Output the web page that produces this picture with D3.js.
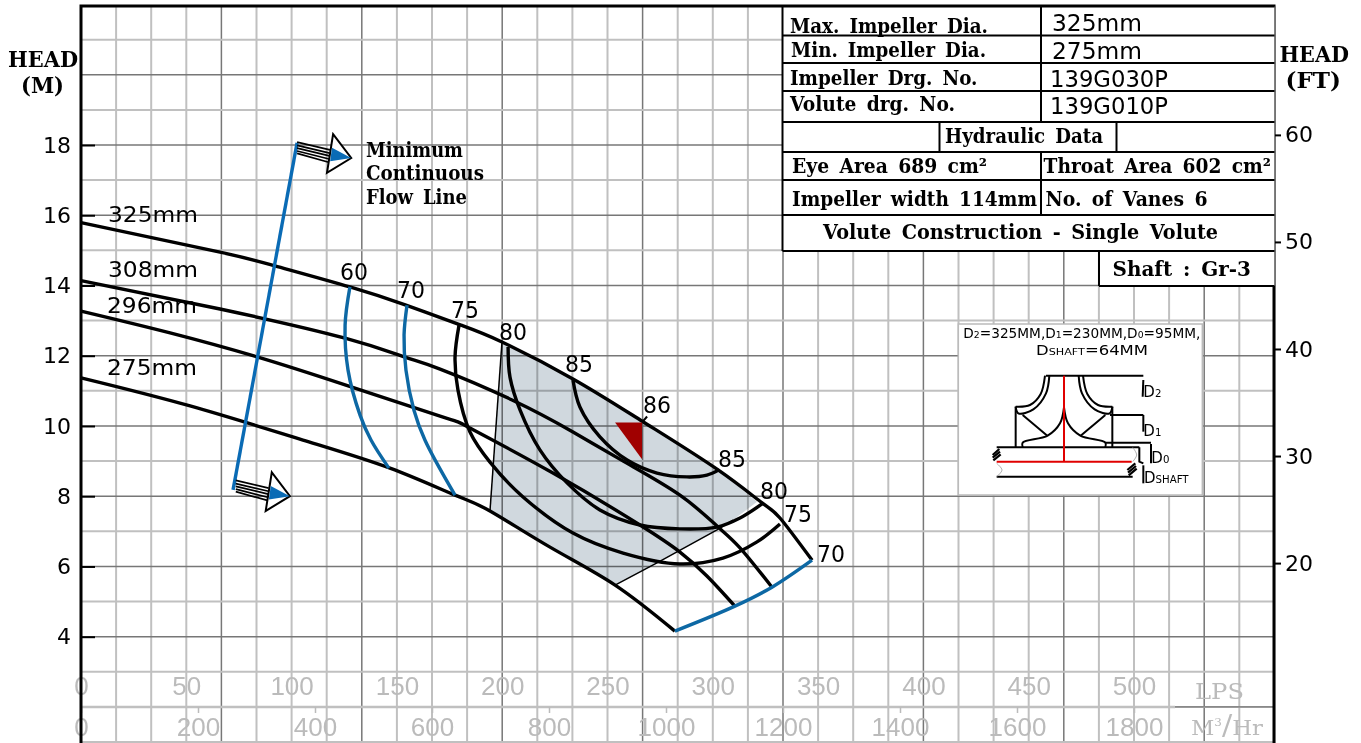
<!DOCTYPE html>
<html>
<head>
<meta charset="utf-8">
<title>Pump curve</title>
<script src="https://cdn.jsdelivr.net/npm/d3@7"></script>
<style>
  body { margin: 0; background: #fff; }
  svg { display: block; }
  .domain { display: none; }
  .num { font-family: "DejaVu Sans", sans-serif; fill: #000; }
  .slab { font-family: "DejaVu Serif", serif; font-weight: 700; fill: #000; word-spacing: 4px; }
  .flow-axis text { font-family: "Liberation Sans", sans-serif; font-size: 26px; fill: #bbb; }
  .flow-axis line { stroke: #bbb; stroke-width: 1.5; }
  .head-axis text { font-family: "DejaVu Sans", sans-serif; font-size: 22px; fill: #000; }
  .head-axis line { stroke: #000; stroke-width: 2; }
</style>
</head>
<body>
<svg id="chart" width="1361" height="743"></svg>
<script>
// all curves are [LPS, head in metres]
const curve325 = [[0,15.79],[66,14.95],[92.1,14.56],[127.7,13.96],[154.3,13.44],[180.4,12.87],[199.9,12.39],[233.6,11.34],[266.9,10.12],[302.5,8.75],[323.4,7.81],[331.9,7.38],[347.1,6.18]];
const curve308 = [[0,14.14],[66,13.33],[125.4,12.5],[153.8,11.96],[170.5,11.62],[204.7,10.74],[233.6,9.83],[258.3,8.97],[284.4,8.03],[302,7.15],[312.9,6.53],[328.1,5.41]];
const curve296 = [[0,13.27],[42.3,12.65],[84,11.96],[125.4,11.17],[170.5,10.28],[184.7,9.94],[224.1,8.66],[265.4,7.18],[284.4,6.41],[297.2,5.73],[310.5,4.87]];
const curve275 = [[0,11.37],[51.8,10.57],[105.4,9.6],[146.7,8.8],[177.6,8.03],[194.2,7.58],[222.7,6.55],[253.6,5.47],[282,4.16]];

const eff60 = [[127.7,13.96],[125.4,12.87],[126.8,11.59],[132.5,10.31],[137.7,9.6],[146.2,8.8]];
const eff70 = [[154.8,13.44],[153.4,12.59],[154.3,11.59],[158.1,10.45],[163.3,9.6],[177.6,8.03]];
const eff75 = [[179.5,12.87],[177.6,11.96],[179,11.02],[184.7,9.83],[194.2,8.97],[209.9,7.98],[233.6,6.95],[257.4,6.38],[284.4,6.07],[304.8,6.24],[321,6.7],[331.9,7.21]];
const eff80 = [[202.8,12.25],[203.7,11.39],[208.5,10.45],[217.9,9.32],[230.8,8.38],[246.4,7.61],[265.4,7.18],[284.4,7.07],[302,7.12],[312.9,7.38],[323.4,7.78]];
const eff85 = [[233.6,11.31],[236.9,10.54],[246.4,9.69],[259.3,9.03],[273.5,8.66],[287.7,8.55],[297.2,8.6],[302.9,8.75]];
const endCurve = [[282,4.16],[310.5,4.87],[328.1,5.41],[347.1,6.18]];
const minFlow = [[102.6,18.06],[72.2,8.18]];

// preferred operating region, the grey patch
const regionEdge = [[199.9,12.39],[233.6,11.34],[266.9,10.12],[302.5,8.75],[321,7.84],[309.6,7.32],[302,7.04],[273.5,6.1],[253.6,5.47],[222.7,6.55],[194.2,7.58]];
const regionLeftLine = [[199.9,12.39],[194.2,7.58]];
const regionLowLine = [[253.6,5.47],[273.5,6.1],[302,7.04],[309.6,7.32]];
const bepMarker = [[253.6,10.1],[266.4,10.1],[266.4,9.05]];
const bepTick = [[266.4,10.1],[268.8,10.27]];

const flowLps = [0,50,100,150,200,250,300,350,400,450,500];
const flowM3 = [0,200,400,600,800,1000,1200,1400,1600,1800];
const headM = [4,6,8,10,12,14,16,18];
const headFt = [20,30,40,50,60];

const diaLabels = ["325mm","308mm","296mm","275mm"];
const effLabels = ["60","70","75","80","85","86","85","80","75","70"];
const tableLabels = ["Max. Impeller Dia.","Min. Impeller Dia.","Impeller Drg. No.","Volute drg. No.","Hydraulic Data","Eye Area 689 cm²","Throat Area 602 cm²","Impeller width 114mm","No. of Vanes 6","Volute Construction - Single Volute","Shaft : Gr-3"];
const tableValues = ["325mm","275mm","139G030P","139G010P"];
const flowNote = ["Minimum","Continuous","Flow Line"];

const svg = d3.select("#chart");

const x = d3.scaleLinear().domain([0, 1700 / 3]).range([81, 1274.4]);
const xM3 = d3.scaleLinear().domain([0, 2040]).range([81, 1274.4]);
const y = d3.scaleLinear().domain([18, 4]).range([145, 636.7]);
const yFt = d3.scaleLinear().domain([60, 20]).range([y(60 * 0.3048), y(20 * 0.3048)]);

const smooth = d3.line().x(d => x(d[0])).y(d => y(d[1])).curve(d3.curveCatmullRom);
const natural = d3.line().x(d => x(d[0])).y(d => y(d[1])).curve(d3.curveNatural);
const straight = d3.line().x(d => x(d[0])).y(d => y(d[1]));

/* grid */
const grid = svg.append("g");
d3.range(0, 35).forEach(i => {
    const major = i % 4 === 0;
    grid.append("line")
        .attr("x1", x(i * 50 / 3)).attr("x2", x(i * 50 / 3))
        .attr("y1", 6).attr("y2", 743)
        .attr("stroke", major ? "#777" : "#c0c0c0")
        .attr("stroke-width", major ? 1.5 : 2);
});
d3.range(1, 22).forEach(m => {
    const major = m % 2 === 0 && m > 2;
    grid.append("line")
        .attr("x1", 81).attr("x2", 1274)
        .attr("y1", y(m)).attr("y2", y(m))
        .attr("stroke", major ? "#777" : "#c0c0c0")
        .attr("stroke-width", major ? 1.5 : 2);
});
// the thick rule between the two flow scales
grid.append("line").attr("x1", 81).attr("x2", 1175).attr("y1", y(2)).attr("y2", y(2))
    .attr("stroke", "#c0c0c0").attr("stroke-width", 2.5);
grid.append("line").attr("x1", 1175).attr("x2", 1274).attr("y1", y(2)).attr("y2", y(2))
    .attr("stroke", "#777").attr("stroke-width", 1.2);

/* flow scales */
svg.append("g").attr("class", "flow-axis")
    .attr("transform", "translate(0,672)")
    .call(d3.axisBottom(x).tickValues(flowLps).tickSize(0).tickPadding(4.5).tickFormat(d3.format("d")));
svg.append("g").attr("class", "flow-axis")
    .attr("transform", "translate(0,707)")
    .call(d3.axisBottom(xM3).tickValues(flowM3).tickSize(6).tickPadding(4.5).tickFormat(d3.format("d")));

svg.append("text").attr("class", "slab").attr("x", 1195).attr("y", 699)
    .attr("textLength", 49).attr("lengthAdjust", "spacingAndGlyphs")
    .style("font-size", "22px").style("fill", "#bbb").style("font-weight", "400")
    .text("LPS");
const m3 = svg.append("text").attr("class", "slab").attr("x", 1191).attr("y", 735)
    .attr("textLength", 72).attr("lengthAdjust", "spacingAndGlyphs")
    .style("font-size", "21px").style("fill", "#bbb").style("font-weight", "400");
m3.append("tspan").text("M");
m3.append("tspan").attr("dy", -9).style("font-size", "11px").text("3");
m3.append("tspan").attr("dy", 9).style("font-size", "28px").text("/");
m3.append("tspan").text("Hr");

/* grey region goes under the curves, the grid shows through it */
svg.append("path")
    .attr("d", straight(regionEdge) + "Z")
    .attr("fill", "#d0d8de")
    .style("mix-blend-mode", "multiply");
[regionLeftLine, regionLowLine].forEach(l => {
    svg.append("path").attr("d", straight(l)).attr("fill", "none").attr("stroke", "#000").attr("stroke-width", 1.5);
});

/* head axes */
svg.append("g").attr("class", "head-axis")
    .attr("transform", "translate(81,0)")
    .call(d3.axisLeft(y).tickValues(headM).tickSize(-14).tickPadding(10));
svg.append("g").attr("class", "head-axis")
    .attr("transform", "translate(1274,0)")
    .call(d3.axisRight(yFt).tickValues(headFt).tickSize(7).tickPadding(4));

/* frame */
svg.append("path").attr("d", "M81,743V6H1274V743").attr("fill", "none").attr("stroke", "#000").attr("stroke-width", 3);

/* table */
const tableHLines = [6.5, 35.5, 63, 91, 122, 152, 180, 215, 251];
const table = svg.append("g");
table.append("rect").attr("x", 782.5).attr("y", 6.5).attr("width", 492).attr("height", 244.5).attr("fill", "#fff");
table.append("rect").attr("x", 1099).attr("y", 251).attr("width", 175.5).attr("height", 35).attr("fill", "#fff");
const seg = (x1, y1, x2, y2) => table.append("line")
    .attr("x1", x1).attr("y1", y1).attr("x2", x2).attr("y2", y2)
    .attr("stroke", "#000").attr("stroke-width", 2);
tableHLines.forEach(v => seg(782.5, v, 1274.5, v));
seg(782.5, 6, 782.5, 251);
seg(1041, 6, 1041, 122);
seg(939.5, 122, 939.5, 152);
seg(1116.5, 122, 1116.5, 152);
seg(1041, 152, 1041, 215);
seg(1099, 251, 1099, 286);
seg(1099, 286, 1274.5, 286);

const tableLayout = [[790,32.5,198],[791,57,195],[790,85,187.5],[790,111,165],[945,143,158],[792,173,195],[1043.6,173,227.4],[792,205.7,245],[1045.5,205.7,162],[823,239,395],[1112.6,275.7,138.4]];
tableLabels.forEach((t, i) => {
    const p = tableLayout[i];
    table.append("text").attr("class", "slab")
        .attr("x", p[0]).attr("y", p[1])
        .attr("textLength", p[2]).attr("lengthAdjust", "spacingAndGlyphs")
        .style("font-size", "20px").text(t);
});
const valueLayout = [[1052,31,90],[1052,59,90],[1050,87,118],[1050,114,118]];
tableValues.forEach((t, i) => {
    const p = valueLayout[i];
    table.append("text").attr("class", "num")
        .attr("x", p[0]).attr("y", p[1])
        .attr("textLength", p[2]).attr("lengthAdjust", "spacingAndGlyphs")
        .style("font-size", "23px").text(t);
});

/* axis titles */
[["HEAD",8,67,70],["(M)",21,93,43],["HEAD",1279.5,62,69.5],["(FT)",1285.5,88,55.5]].forEach(d => {
    svg.append("text").attr("class", "slab")
        .attr("x", d[1]).attr("y", d[2])
        .attr("textLength", d[3]).attr("lengthAdjust", "spacingAndGlyphs")
        .style("font-size", "22px").text(d[0]);
});

/* head curves */
[curve325, curve308, curve296, curve275].forEach(c => {
    svg.append("path").attr("d", natural(c)).attr("fill", "none").attr("stroke", "#000").attr("stroke-width", 3.4);
});
[eff75, eff80, eff85].forEach(c => {
    svg.append("path").attr("d", smooth(c)).attr("fill", "none").attr("stroke", "#000").attr("stroke-width", 3.4);
});
[eff60, eff70, endCurve].forEach(c => {
    svg.append("path").attr("d", smooth(c)).attr("fill", "none").attr("stroke", "#0d68a4").attr("stroke-width", 3.4);
});
svg.append("path").attr("d", straight(minFlow)).attr("fill", "none").attr("stroke", "#0a6bb5").attr("stroke-width", 3.4);

/* best efficiency marker */
svg.append("path").attr("d", straight(bepMarker) + "Z").attr("fill", "#a00000");
svg.append("path").attr("d", straight(bepTick)).attr("stroke", "#000").attr("stroke-width", 2);

/* min flow arrows, offsets in LPS and metres from each anchor */
const arrowAnchors = [[102.6,18.06],[73.5,8.43]];
const arrowShaft = [[0,0.02,15.6,-0.2],[0,-0.07,15.5,-0.29],[0,-0.15,15.4,-0.37],[0,-0.23,15.2,-0.46],[0,-0.3,15,-0.55]];
const arrowHead = [[17.1,0.25],[25.7,-0.43],[14.2,-0.85]];
const arrowFill = [[16.6,-0.14],[25.7,-0.43],[15.7,-0.52]];
arrowAnchors.forEach(end => {
    const at = p => [end[0] + p[0], end[1] + p[1]];
    const g = svg.append("g");
    arrowShaft.forEach(s => {
        g.append("path").attr("d", straight([at([s[0], s[1]]), at([s[2], s[3]])]))
            .attr("stroke", "#000").attr("stroke-width", 1.7);
    });
    g.append("path").attr("d", straight(arrowHead.map(at)) + "Z").attr("fill", "#fff").attr("stroke", "#000").attr("stroke-width", 2);
    g.append("path").attr("d", straight(arrowFill.map(at)) + "Z").attr("fill", "#0a6bb5");
});

flowNote.forEach((t, i) => {
    svg.append("text").attr("class", "slab")
        .attr("x", 366).attr("y", [157, 180, 204][i])
        .attr("textLength", [97, 118, 101][i]).attr("lengthAdjust", "spacingAndGlyphs")
        .style("font-size", "20px").text(t);
});

/* curve labels */
const diaLayout = [[108,222],[108,277],[107,313],[107,375]];
diaLabels.forEach((t, i) => {
    svg.append("text").attr("class", "num")
        .attr("x", diaLayout[i][0]).attr("y", diaLayout[i][1])
        .attr("textLength", 90).attr("lengthAdjust", "spacingAndGlyphs")
        .style("font-size", "22px").text(t);
});
const effLayout = [[340,280],[397,298],[451,318],[499,340],[565,372],[643,413],[718,467],[760,499],[784,522],[817,562]];
effLabels.forEach((t, i) => {
    svg.append("text").attr("class", "num")
        .attr("x", effLayout[i][0]).attr("y", effLayout[i][1])
        .attr("textLength", 28).attr("lengthAdjust", "spacingAndGlyphs")
        .style("font-size", "23px").text(t);
});

/* impeller sketch, drawn in its own little coordinate system */
const ix = d3.scaleLinear().domain([0, 780]).range([950, 1210]);
const iy = d3.scaleLinear().domain([0, 540]).range([320, 500]);
const sketch = svg.append("g");
sketch.append("rect")
    .attr("x", ix(25)).attr("y", iy(12))
    .attr("width", ix(757) - ix(25)).attr("height", iy(525) - iy(12))
    .attr("fill", "#fff").attr("stroke", "#bbb").attr("stroke-width", 1.5);

const mirror = pts => pts.map(p => [684 - p[0], p[1]]);
const shroudOuter = [[285,167],[272,222],[240,255],[197,260]];
const shroudInner = [[298,167],[288,220],[250,268],[205,280],[197,260]];
const hub = [[342,262],[330,310],[293,347],[218,368],[218,382]];
const vane = [[218,285],[292,347]];
const sideLines = [[197,260],[197,382]];
const straights = [[[288,167],[580,167]],[[140,382],[568,382]],[[140,470],[548,470]],[[568,382],[568,425],[580,430]],
    [[480,285],[580,285]],[[466,368],[603,368]],[[580,180],[578,230]],[[580,285],[580,335]],[[603,372],[603,430]],[[580,436],[580,490]]];
const hatches = [[[128,405],[148,387]],[[128,413],[150,395]],[[130,421],[152,403]],[[532,450],[556,430]],[[534,458],[558,438]],[[536,466],[560,446]]];
const breakLines = [[[140,430],[156,450],[140,470]],[[548,382],[560,405],[548,425]]];
const centerLines = [[[342,167],[342,425]],[[140,425],[545,425]]];

const inset = d3.line().x(d => ix(d[0])).y(d => iy(d[1]));
const insetSmooth = d3.line().x(d => ix(d[0])).y(d => iy(d[1])).curve(d3.curveCatmullRom);
const stroke = (pts, gen, col, w) => sketch.append("path").attr("d", gen(pts)).attr("fill", "none").attr("stroke", col).attr("stroke-width", w);

[shroudOuter, shroudInner, hub].forEach(c => {
    stroke(c, insetSmooth, "#000", 2);
    stroke(mirror(c), insetSmooth, "#000", 2);
});
[vane, sideLines].forEach(c => {
    stroke(c, inset, "#000", 2);
    stroke(mirror(c), inset, "#000", 2);
});
straights.forEach(c => stroke(c, inset, "#000", 2));
hatches.forEach(c => stroke(c, inset, "#000", 2.2));
breakLines.forEach(c => stroke(c, insetSmooth, "#999", 0.8));
centerLines.forEach(c => stroke(c, inset, "#e00000", 2));

const subText = (px, py, big, small, size, len) => {
    const t = svg.append("text").attr("class", "num").attr("x", ix(px)).attr("y", iy(py)).style("font-size", size + "px");
    big.forEach((b, i) => {
        t.append("tspan").text(b);
        if (small[i]) t.append("tspan").style("font-size", (size * 0.68) + "px").text(small[i]);
    });
    if (len) t.attr("textLength", len).attr("lengthAdjust", "spacingAndGlyphs");
};
subText(40, 55, ["D","=325MM,D","=230MM,D","=95MM,"], ["2","1","0",""], 14, 237);
subText(258, 105, ["D","=64MM"], ["SHAFT",""], 14, 112);
subText(580, 230, ["D"], ["2"], 15);
subText(580, 347, ["D"], ["1"], 15);
subText(604, 430, ["D"], ["0"], 15);
subText(582, 490, ["D"], ["SHAFT"], 15);
</script>
</body>
</html>
